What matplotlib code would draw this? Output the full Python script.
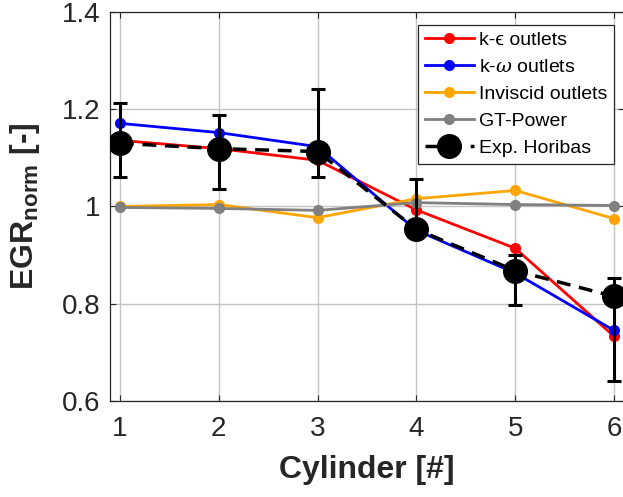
import matplotlib
matplotlib.use("Agg")
import matplotlib.pyplot as plt
import numpy as np

# данные
cylinders = [1, 2, 3, 4, 5, 6]
k_eps = [1.136, 1.119, 1.095, 0.993, 0.914, 0.733]
k_omega = [1.171, 1.152, 1.123, 0.951, 0.863, 0.745]
inviscid = [1.000, 1.004, 0.977, 1.016, 1.033, 0.975]
gt_power = [0.998, 0.996, 0.992, 1.008, 1.004, 1.002]
exp_horibas = [1.130, 1.119, 1.113, 0.953, 0.868, 0.815]
exp_low = [1.060, 1.037, 1.060, 0.953, 0.798, 0.642]
exp_high = [1.212, 1.189, 1.241, 1.056, 0.901, 0.852]

x_ticks = [1, 2, 3, 4, 5, 6]
y_ticks = [0.6, 0.8, 1.0, 1.2, 1.4]
y_tick_labels = ["0.6", "0.8", "1", "1.2", "1.4"]

plt.rcParams["font.family"] = ["Liberation Sans", "DejaVu Sans"]
plt.rcParams["mathtext.fontset"] = "custom"
plt.rcParams["mathtext.rm"] = "Liberation Sans"
plt.rcParams["mathtext.bf"] = "Liberation Sans:bold"
plt.rcParams["mathtext.it"] = "DejaVu Serif:italic"


def main():
    fig = plt.figure(figsize=(6.23, 4.97), dpi=100)
    ax = fig.add_axes([110 / 623, 96 / 497, 514 / 623, 389 / 497])

    ax.plot(cylinders, k_eps, "-o", color="#ff0000", lw=2, ms=7,
            label="k-\u03f5 outlets")
    ax.plot(cylinders, k_omega, "-o", color="#0000ff", lw=2, ms=7,
            label=r"k-$\omega$ outlets")
    ax.plot(cylinders, inviscid, "-o", color="#ffa500", lw=2, ms=7,
            label="Inviscid outlets")
    ax.plot(cylinders, gt_power, "-o", color="#808080", lw=2, ms=7,
            label="GT-Power")

    exp = np.array(exp_horibas)
    yerr = [exp - np.array(exp_low), np.array(exp_high) - exp]
    ax.errorbar(cylinders, exp, yerr=yerr, fmt="none", ecolor="black",
                elinewidth=2.2, capsize=5, capthick=2.2, zorder=4)
    ax.plot(cylinders, exp, "--o", color="black", lw=2.5, ms=17,
            dashes=(4, 2.5), label="Exp. Horibas", zorder=5)

    ax.set_xlim(0.9, 6.1)
    ax.set_ylim(0.6, 1.4)
    ax.set_xticks(x_ticks)
    ax.set_yticks(y_ticks)
    ax.set_yticklabels(y_tick_labels)
    ax.tick_params(direction="in", length=4, width=0.8, labelsize=20,
                   colors="#262626", top=True, right=True, pad=7)
    ax.tick_params(axis="x", pad=11)
    for s in ax.spines.values():
        s.set_color("#262626")
        s.set_linewidth(0.9)
    ax.grid(True, color="#c4c4c4", lw=1)
    ax.set_axisbelow(True)

    ax.set_xlabel("Cylinder [#]", fontsize=23, fontweight="bold",
                  color="#262626", labelpad=9)
    ax.set_ylabel(r"EGR$_{\mathbf{norm}}$ [-]", fontsize=23,
                  fontweight="bold", color="#262626", labelpad=14)

    leg = ax.legend(loc="upper right", bbox_to_anchor=(0.98, 0.967),
                    fontsize=14, handlelength=2.5, labelspacing=0.48,
                    borderpad=0.35, handletextpad=0.25, fancybox=False,
                    framealpha=1, edgecolor="#262626", borderaxespad=0.0)
    leg.get_frame().set_linewidth(0.9)
    # ϵ нет в Liberation Sans, берём из DejaVu Serif
    leg.get_texts()[0].set_family(["Liberation Sans", "DejaVu Serif"])

    fig.savefig("out.png", dpi=100)


if __name__ == "__main__":
    main()
